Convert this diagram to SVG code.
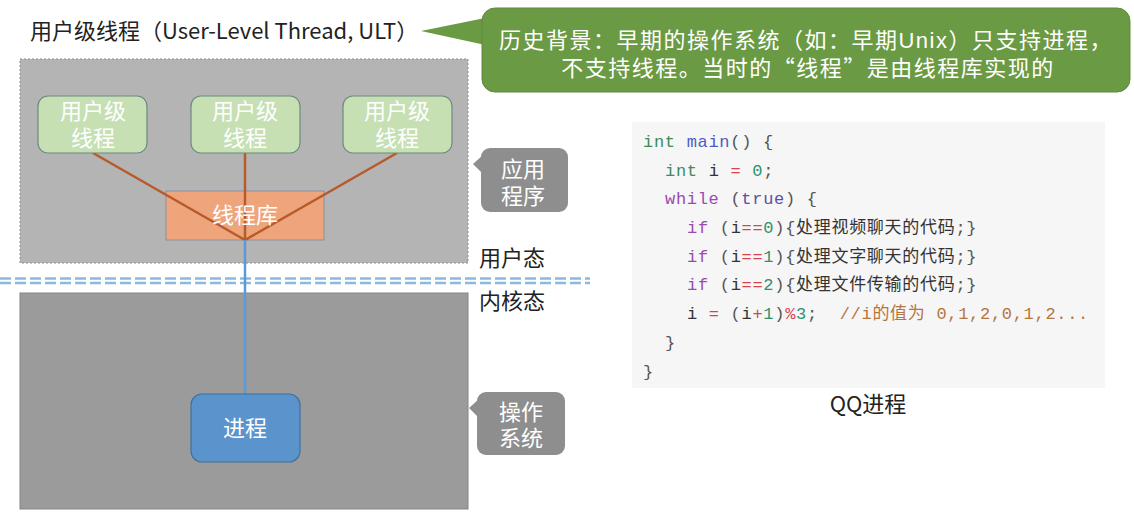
<svg xmlns="http://www.w3.org/2000/svg" width="1134" height="525" viewBox="0 0 1134 525">
<style>
.cjk{font-family:"Noto Sans CJK SC","Noto Sans",sans-serif}
.cjk2{font-family:"Liberation Sans","Noto Sans CJK SC",sans-serif}
.title{font-size:22px;fill:#222}
.lbl{font-size:22px;fill:#222}
.wt{font-size:22px;fill:#ffffff;text-anchor:middle}
.ut{fill:#c6e0b4;stroke:#6b8a82;stroke-width:1.2}
.callout{fill:#8e8e8e}
.code{font-family:"Liberation Mono","Noto Sans CJK SC",monospace;font-size:17px;letter-spacing:0.7px;fill:#555;white-space:pre}
.ty{fill:#3f8b60}.fn{fill:#4b5cc4}.kw{fill:#9a4bb0}.tr{fill:#5b4fa8}.op{fill:#d2464f}.nu{fill:#2f8f6f}.va{fill:#333}.cm{fill:#b5753e}
.br{stroke:#b85a2a;stroke-width:2.5;fill:none}
.dl{stroke:#8fb8e0;stroke-width:2.5;stroke-dasharray:11 4;fill:none}
</style>

<!-- title -->
<text class="cjk title" x="30" y="39">用户级线程（User-Level Thread, ULT）</text>

<!-- green callout -->
<g id="history-note">
<polygon points="421,31 490,17 490,46" fill="#6b9a44"/>
<rect x="482" y="8" width="648" height="84" rx="13" fill="#6b9a44" stroke="#5e8a3b" stroke-width="1"/>
<text class="cjk2 wt" style="letter-spacing:1.5px"><tspan x="806" y="48">历史背景：早期的操作系统（如：早期Unix）只支持进程，</tspan><tspan x="808" y="76">不支持线程。当时的<tspan class="cjk">“</tspan>线程<tspan class="cjk">”</tspan>是由线程库实现的</tspan></text>
</g>

<!-- regions -->
<g id="user-space">
<rect x="20" y="59" width="448" height="204" fill="#b4b4b4" stroke="#8c8c8c" stroke-width="1" stroke-dasharray="2 2"/>
</g>
<g id="kernel-space">
<rect x="20" y="293" width="448" height="216" fill="#9b9b9b" stroke="#858585" stroke-width="1"/>
</g>

<!-- mode boundary -->
<g id="boundary">
<line class="dl" x1="0" y1="278.5" x2="590" y2="278.5"/>
<line class="dl" x1="0" y1="283" x2="590" y2="283"/>
</g>
<text class="cjk lbl" x="479" y="266">用户态</text>
<text class="cjk lbl" x="479" y="309">内核态</text>

<!-- thread library box -->
<g id="thread-lib">
<rect x="166" y="191" width="158" height="49" fill="#eea57c" stroke="#8a8f9c" stroke-width="1"/>
</g>

<!-- connectors -->
<g id="connectors">
<line class="br" x1="93" y1="153" x2="245" y2="240"/>
<line class="br" x1="245" y1="153" x2="245" y2="240"/>
<line class="br" x1="397" y1="153" x2="245" y2="240"/>
<line x1="245" y1="240" x2="245" y2="394" stroke="#5b9bd5" stroke-width="2.5"/>
</g>
<text class="cjk wt" x="245" y="223">线程库</text>

<!-- user threads -->
<g id="ult1">
<rect class="ut" x="38" y="96" width="109" height="57" rx="10"/>
<text class="cjk2 wt"><tspan x="93" y="119">用户级</tspan><tspan x="93" y="146">线程</tspan></text>
</g>
<g id="ult2">
<rect class="ut" x="191" y="96" width="109" height="57" rx="10"/>
<text class="cjk2 wt"><tspan x="245" y="119">用户级</tspan><tspan x="245" y="146">线程</tspan></text>
</g>
<g id="ult3">
<rect class="ut" x="343" y="96" width="109" height="57" rx="10"/>
<text class="cjk2 wt"><tspan x="397" y="119">用户级</tspan><tspan x="397" y="146">线程</tspan></text>
</g>

<!-- process -->
<g id="process">
<rect x="191" y="394" width="109" height="68" rx="11" fill="#5b94cc" stroke="#41719c" stroke-width="1.2"/>
<text class="cjk wt" x="245" y="436">进程</text>
</g>

<!-- side callouts -->
<g id="app-callout">
<polygon class="callout" points="473,164 483,155 483,174"/>
<rect class="callout" x="481" y="148" width="87" height="64" rx="9"/>
<text class="cjk2 wt"><tspan x="523" y="177">应用</tspan><tspan x="523" y="204">程序</tspan></text>
</g>
<g id="os-callout">
<polygon class="callout" points="469,408 479,399 479,418"/>
<rect class="callout" x="477" y="392" width="88" height="63" rx="9"/>
<text class="cjk2 wt"><tspan x="521" y="420">操作</tspan><tspan x="521" y="446">系统</tspan></text>
</g>

<!-- code block -->
<g id="qq-code">
<rect x="632" y="122" width="473" height="266" fill="#f6f6f6"/>
<text class="code" x="643" y="147"><tspan class="ty">int</tspan> <tspan class="fn">main</tspan>() {</text>
<text class="code" x="665" y="176"><tspan class="ty">int</tspan> <tspan class="va">i</tspan> <tspan class="op">=</tspan> <tspan class="nu">0</tspan>;</text>
<text class="code" x="665" y="204"><tspan class="kw">while</tspan> (<tspan class="tr">true</tspan>) {</text>
<text class="code" x="687" y="233"><tspan class="kw">if</tspan> (<tspan class="va">i</tspan><tspan class="op">==</tspan><tspan class="nu">0</tspan>){<tspan class="va">处理视频聊天的代码</tspan>;}</text>
<text class="code" x="687" y="262"><tspan class="kw">if</tspan> (<tspan class="va">i</tspan><tspan class="op">==</tspan><tspan class="nu">1</tspan>){<tspan class="va">处理文字聊天的代码</tspan>;}</text>
<text class="code" x="687" y="290"><tspan class="kw">if</tspan> (<tspan class="va">i</tspan><tspan class="op">==</tspan><tspan class="nu">2</tspan>){<tspan class="va">处理文件传输的代码</tspan>;}</text>
<text class="code" x="687" y="319"><tspan class="va">i</tspan> <tspan class="op">=</tspan> (<tspan class="va">i</tspan><tspan class="op">+</tspan><tspan class="nu">1</tspan>)<tspan class="op">%</tspan><tspan class="nu">3</tspan>;  <tspan class="cm">//i的值为 0,1,2,0,1,2...</tspan></text>
<text class="code" x="665" y="348">}</text>
<text class="code" x="643" y="377">}</text>
</g>
<text class="cjk" x="868" y="412" font-size="22" fill="#222" text-anchor="middle">QQ进程</text>
</svg>
